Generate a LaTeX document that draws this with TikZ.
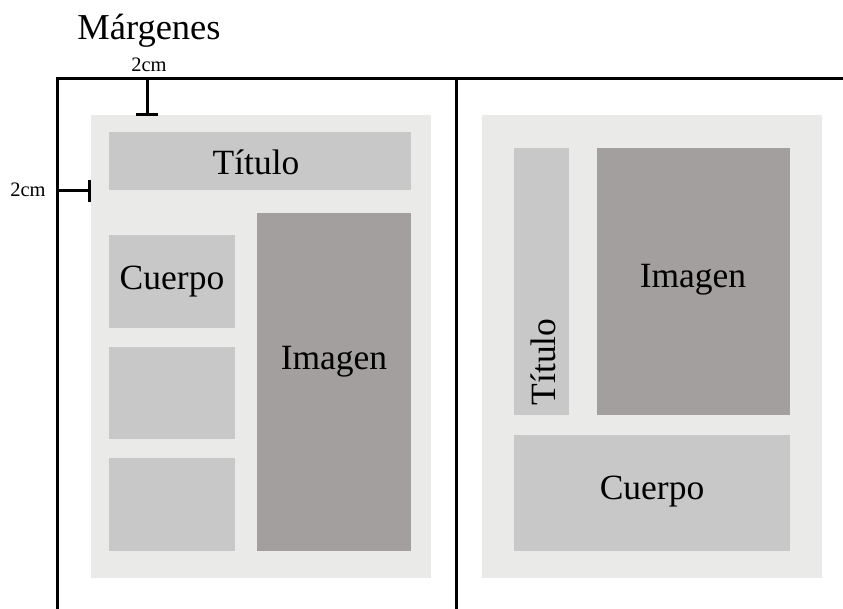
\documentclass[tikz,border=0pt]{standalone}
\usepackage{fontspec}
\setmainfont{Liberation Serif}
\definecolor{pagebg}{HTML}{EAEAE8}
\definecolor{blkgray}{HTML}{C8C8C8}
\definecolor{imggray}{HTML}{A39F9E}
\begin{document}
\begin{tikzpicture}[x=1pt,y=-1pt,
  frame/.style={line width=3pt},
  marker/.style={line width=3pt},
  pagebox/.style={fill=pagebg,draw=none,inner sep=0,anchor=north west},
  blkbox/.style={fill=blkgray,draw=none,inner sep=0,anchor=north west},
  imgbox/.style={fill=imggray,draw=none,inner sep=0,anchor=north west},
  lbl/.style={font=\fontsize{35.5}{40}\selectfont,inner sep=0},
  small/.style={font=\fontsize{20.5}{24}\selectfont,inner sep=0}]
\useasboundingbox (0,0) rectangle (843,609);
% pages
\node[pagebox,minimum width=340pt,minimum height=463pt] (pageL) at (91,115) {};
\node[pagebox,minimum width=340pt,minimum height=463pt] (pageR) at (482,115) {};
% left layout
\node[blkbox,minimum width=302pt,minimum height=58pt] (titL) at (109,132) {};
\node[blkbox,minimum width=126pt,minimum height=93pt] (c1) at (109,235) {};
\node[blkbox,minimum width=126pt,minimum height=92pt] (c2) at (109,347) {};
\node[blkbox,minimum width=126pt,minimum height=93pt] (c3) at (109,458) {};
\node[imgbox,minimum width=154pt,minimum height=338pt] (imgL) at (257,213) {};
% right layout
\node[blkbox,minimum width=55pt,minimum height=267pt] (titR) at (514,148) {};
\node[imgbox,minimum width=193pt,minimum height=267pt] (imgR) at (597,148) {};
\node[blkbox,minimum width=276pt,minimum height=116pt] (cueR) at (514,435) {};
% labels
\node[lbl] (tTitL) at (256,162) {Título};
\node[lbl] (tCue1) at (172,282) {Cuerpo};
\node[lbl] (tImgL) at (334,362) {Imagen};
\node[lbl] (tImgR) at (693,280) {Imagen};
\node[lbl] (tCueR) at (652,492) {Cuerpo};
\node[lbl,rotate=90] (tTitR) at (543,362) {Título};
\node[lbl,font=\fontsize{36.5}{42}\selectfont] (tMarg) at (149,31) {Márgenes};
\node[small] (tTop) at (149,65) {2cm};
\node[small] (tLeft) at (28,190) {2cm};
% frame
\coordinate (fbl) at (57,609);
\coordinate (ftl) at (57,79);
\coordinate (ftr) at (845,79);
\coordinate (fmt) at (456,79);
\coordinate (fmb) at (456,609);
\draw[frame] (fbl) -- (ftl) -- (ftr);
\draw[frame] (fmt) -- (fmb);
% top margin marker
\coordinate (mt1) at (147,79);
\coordinate (mt2) at (147,115);
\draw[marker] (mt1) -- (mt2);
\draw[marker] ([xshift=-11pt]mt1) -- ([xshift=11pt]mt1);
\draw[marker] ([xshift=-11pt]mt2) -- ([xshift=11pt]mt2);
% left margin marker
\coordinate (ml1) at (57,191);
\coordinate (ml2) at (89,191);
\draw[marker] (ml1) -- (ml2);
\draw[marker] ([yshift=-11pt]ml2) -- ([yshift=11pt]ml2);
\end{tikzpicture}
\end{document}
